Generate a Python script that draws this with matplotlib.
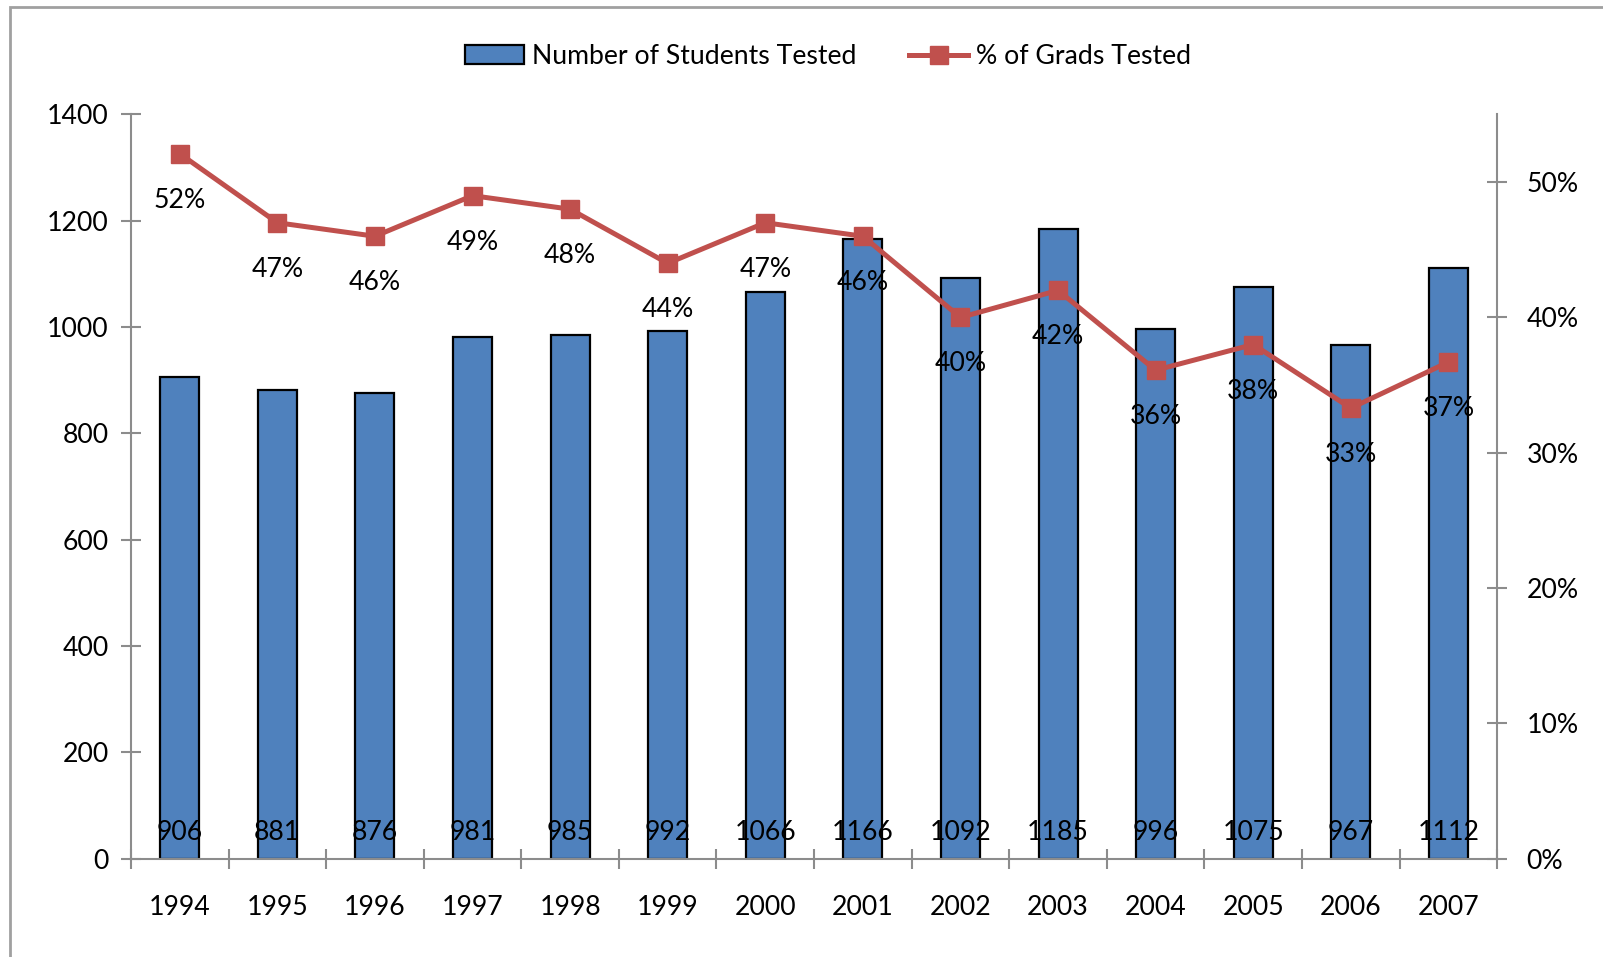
import matplotlib.pyplot as plt
from matplotlib.patches import Rectangle
from matplotlib.ticker import FuncFormatter

years = ['1994', '1995', '1996', '1997', '1998', '1999', '2000',
         '2001', '2002', '2003', '2004', '2005', '2006', '2007']
students = [906, 881, 876, 981, 985, 992, 1066, 1166, 1092, 1185, 996, 1075, 967, 1112]
pct_grads = [0.521, 0.470, 0.460, 0.490, 0.480, 0.440, 0.470,
             0.460, 0.400, 0.420, 0.361, 0.380, 0.333, 0.367]

plt.rcParams['font.family'] = ['Lato', 'DejaVu Sans']
fs = 19.2
gray = '#8c8c8c'

fig = plt.figure(figsize=(16.03, 9.57), dpi=100)
ax = fig.add_axes([0.0817, 0.1027, 0.934 - 0.0817, 0.8804 - 0.1027])
ax2 = ax.twinx()

x = list(range(len(years)))
bars = ax.bar(x, students, width=0.4, color='#4F81BD', edgecolor='black',
              linewidth=1.6, label='Number of Students Tested', zorder=2)
for xi, v in zip(x, students):
    ax.text(xi, 50, str(v), ha='center', va='center', fontsize=fs, zorder=3)

line, = ax2.plot(x, pct_grads, color='#C0504D', linewidth=3.6, marker='s',
                 markersize=13, label='% of Grads Tested')
for xi, p in zip(x, pct_grads):
    ax2.annotate(f'{round(p * 100):.0f}%', (xi, p), xytext=(0, -33.5),
                 textcoords='offset points', ha='center', va='center', fontsize=fs)

ax.set_xlim(-0.5, len(years) - 0.5)
ax.set_ylim(0, 1400)
ax2.set_ylim(0, 0.55)
ax.set_yticks(range(0, 1401, 200))
ax2.set_yticks([0, 0.1, 0.2, 0.3, 0.4, 0.5])
ax2.yaxis.set_major_formatter(FuncFormatter(lambda v, _: f'{v * 100:.0f}%'))

ax.set_xticks([i - 0.5 for i in range(len(years) + 1)])
ax.set_xticklabels([])
ax.set_xticks(x, minor=True)
ax.set_xticklabels(years, minor=True, fontsize=fs)
ax.tick_params(axis='x', which='minor', length=0, pad=26)
ax.tick_params(axis='x', which='major', direction='inout', length=14, width=1.5, color=gray)
ax.tick_params(axis='y', direction='inout', length=14, width=1.5, color=gray,
               labelsize=fs, pad=9)
ax2.tick_params(axis='y', direction='inout', length=14, width=1.5, color=gray,
                labelsize=fs, pad=14)

for a in (ax, ax2):
    a.spines['top'].set_visible(False)
    for s in ('left', 'right', 'bottom'):
        a.spines[s].set_color(gray)
        a.spines[s].set_linewidth(1.5)
ax.spines['right'].set_visible(False)
ax2.spines['left'].set_visible(False)
ax2.spines['bottom'].set_visible(False)

fig.legend([bars, line], ['Number of Students Tested', '% of Grads Tested'],
           loc='center', bbox_to_anchor=(0.5166, 0.941), ncol=2, frameon=False,
           fontsize=fs, handlelength=2.2, handletextpad=0.3, columnspacing=2.0)

fig.patches.append(Rectangle((0.0064, -0.02), 1.1, 1.0125, transform=fig.transFigure,
                             fill=False, edgecolor='#a0a0a0', linewidth=2))

fig.savefig('out.png', dpi=100)
